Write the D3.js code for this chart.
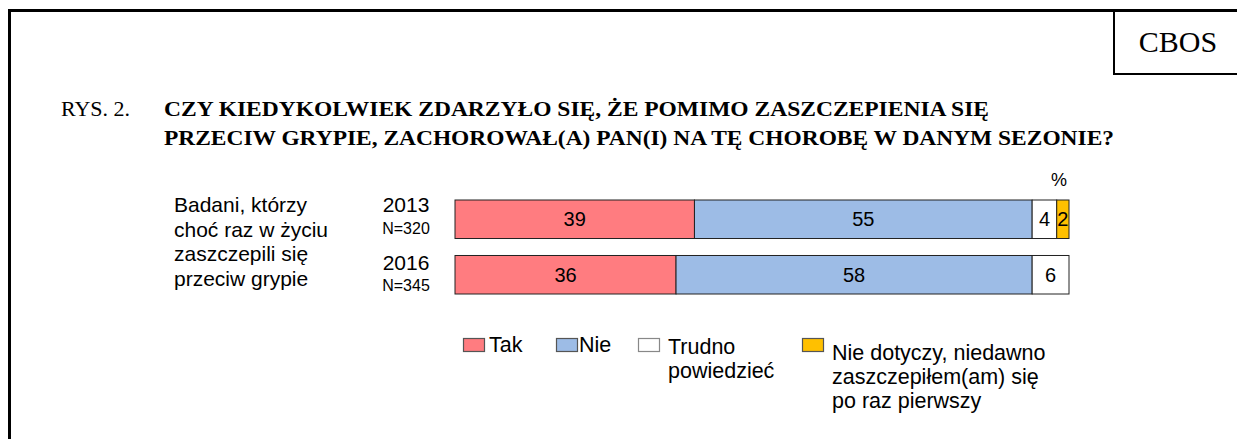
<!DOCTYPE html>
<html>
<head>
<meta charset="utf-8">
<script src="https://cdn.jsdelivr.net/npm/d3@7"></script>
<style>
  body { margin: 0; background: #fff; }
  svg { display: block; }
</style>
</head>
<body>
<svg id="chart" width="1237" height="439"></svg>
<script>
// data
var years = ["2013", "2016"];
var sampleSizes = ["N=320", "N=345"];
var categories = ["Tak", "Nie", "Trudno powiedzieć", "Nie dotyczy, niedawno zaszczepiłem(am) się po raz pierwszy"];
var keys = ["tak", "nie", "trudno", "nd"];
var tak = [39, 36];
var nie = [55, 58];
var trudno = [4, 6];
var nd = [2, 0];

var colors = ["#ff7c80", "#9dbce6", "#ffffff", "#ffc000"];

var rows = years.map(function (y, i) {
  return { year: y, tak: tak[i], nie: nie[i], trudno: trudno[i], nd: nd[i] };
});

var svg = d3.select("#chart");
var serif = "'Liberation Serif', 'Times New Roman', serif";
var sans = "'Liberation Sans', Arial, sans-serif";

// outer frame + CBOS box
svg.append("path")
  .attr("d", "M9.5,439 L9.5,10.5 L1237,10.5")
  .attr("fill", "none").attr("stroke", "#000").attr("stroke-width", 3);
svg.append("path")
  .attr("d", "M1114,10 L1114,74 L1237,74")
  .attr("fill", "none").attr("stroke", "#000").attr("stroke-width", 2);
svg.append("text").attr("x", 1178).attr("y", 52)
  .attr("text-anchor", "middle")
  .style("font-family", serif).style("font-size", "30px")
  .text("CBOS");

// title
svg.append("text").attr("x", 61).attr("y", 116)
  .style("font-family", serif).style("font-size", "22px")
  .text("RYS. 2.");
var titleLines = ["CZY KIEDYKOLWIEK ZDARZYŁO SIĘ, ŻE POMIMO ZASZCZEPIENIA SIĘ",
                  "PRZECIW GRYPIE, ZACHOROWAŁ(A) PAN(I) NA TĘ CHOROBĘ W DANYM SEZONIE?"];
var titleWidths = [825, 950];
svg.selectAll("text.title").data(titleLines).enter().append("text")
  .attr("class", "title")
  .attr("x", 164)
  .attr("y", function (d, i) { return 116 + i * 29; })
  .attr("textLength", function (d, i) { return titleWidths[i]; })
  .attr("lengthAdjust", "spacingAndGlyphs")
  .style("font-family", serif).style("font-size", "22px").style("font-weight", "bold")
  .text(function (d) { return d; });

// scales
var x = d3.scaleLinear().domain([0, 100]).range([455, 1069]);
var y = d3.scaleBand().domain(years).range([200, 294]).paddingInner(0.306).paddingOuter(0);

var stacked = d3.stack().keys(keys)(rows);

var groups = svg.append("g").selectAll("g")
  .data(stacked).enter().append("g")
  .attr("fill", function (d, i) { return colors[i]; });

groups.selectAll("rect")
  .data(function (d) { return d; })
  .enter().append("rect")
  .attr("x", function (d) { return x(d[0]); })
  .attr("y", function (d) { return y(d.data.year); })
  .attr("width", function (d) { return x(d[1]) - x(d[0]); })
  .attr("height", y.bandwidth())
  .attr("stroke", "#222")
  .attr("stroke-width", 1)
  .style("display", function (d) { return d[1] - d[0] > 0 ? null : "none"; });

groups.selectAll("text")
  .data(function (d) { return d; })
  .enter().append("text")
  .attr("x", function (d) { return (x(d[0]) + x(d[1])) / 2; })
  .attr("y", function (d) { return y(d.data.year) + y.bandwidth() / 2 + 7; })
  .attr("text-anchor", "middle")
  .attr("fill", "#000")
  .style("font-family", sans).style("font-size", "20px")
  .text(function (d) { return d[1] - d[0] > 0 ? d[1] - d[0] : ""; });

// "%" marker
svg.append("text").attr("x", x(100) - 10).attr("y", 186)
  .attr("text-anchor", "middle")
  .style("font-family", sans).style("font-size", "18px")
  .text("%");

// row labels
svg.selectAll("text.year").data(years).enter().append("text")
  .attr("class", "year")
  .attr("x", 406)
  .attr("y", function (d, i) { return y(d) + 12 + i * 3; })
  .attr("text-anchor", "middle")
  .style("font-family", sans).style("font-size", "21px")
  .text(function (d) { return d; });
svg.selectAll("text.n").data(sampleSizes).enter().append("text")
  .attr("class", "n")
  .attr("x", 406)
  .attr("y", function (d, i) { return y(years[i]) + 34 + i * 2; })
  .attr("text-anchor", "middle")
  .style("font-family", sans).style("font-size", "16px")
  .text(function (d) { return d; });

var groupLabel = ["Badani, którzy", "choć raz w życiu", "zaszczepili się", "przeciw grypie"];
svg.selectAll("text.grp").data(groupLabel).enter().append("text")
  .attr("class", "grp")
  .attr("x", 174)
  .attr("y", function (d, i) { return 212 + i * 24.5; })
  .style("font-family", sans).style("font-size", "21px")
  .text(function (d) { return d; });

// legend
var legendX = [463, 556, 638, 802];
var legendLines = [["Tak"], ["Nie"], ["Trudno", "powiedzieć"],
                   ["Nie dotyczy, niedawno", "zaszczepiłem(am) się", "po raz pierwszy"]];
var legendTextDx = [26, 23, 30, 30];
var legendTextY = [352, 352, 354, 360];
var legendStroke = ["#555", "#555", "#888", "#555"];

var leg = svg.append("g").selectAll("g")
  .data(categories).enter().append("g")
  .attr("transform", function (d, i) { return "translate(" + legendX[i] + ",0)"; });

leg.append("rect")
  .attr("x", 0.5).attr("y", 338.5)
  .attr("width", 21).attr("height", 13)
  .attr("fill", function (d, i) { return colors[i]; })
  .attr("stroke", function (d, i) { return legendStroke[i]; })
  .attr("stroke-width", 1.2);

leg.each(function (d, i) {
  d3.select(this).selectAll("text")
    .data(legendLines[i]).enter().append("text")
    .attr("x", legendTextDx[i])
    .attr("y", function (t, j) { return legendTextY[i] + j * 24; })
    .style("font-family", sans).style("font-size", "21.5px")
    .text(function (t) { return t; });
});
</script>
</body>
</html>
